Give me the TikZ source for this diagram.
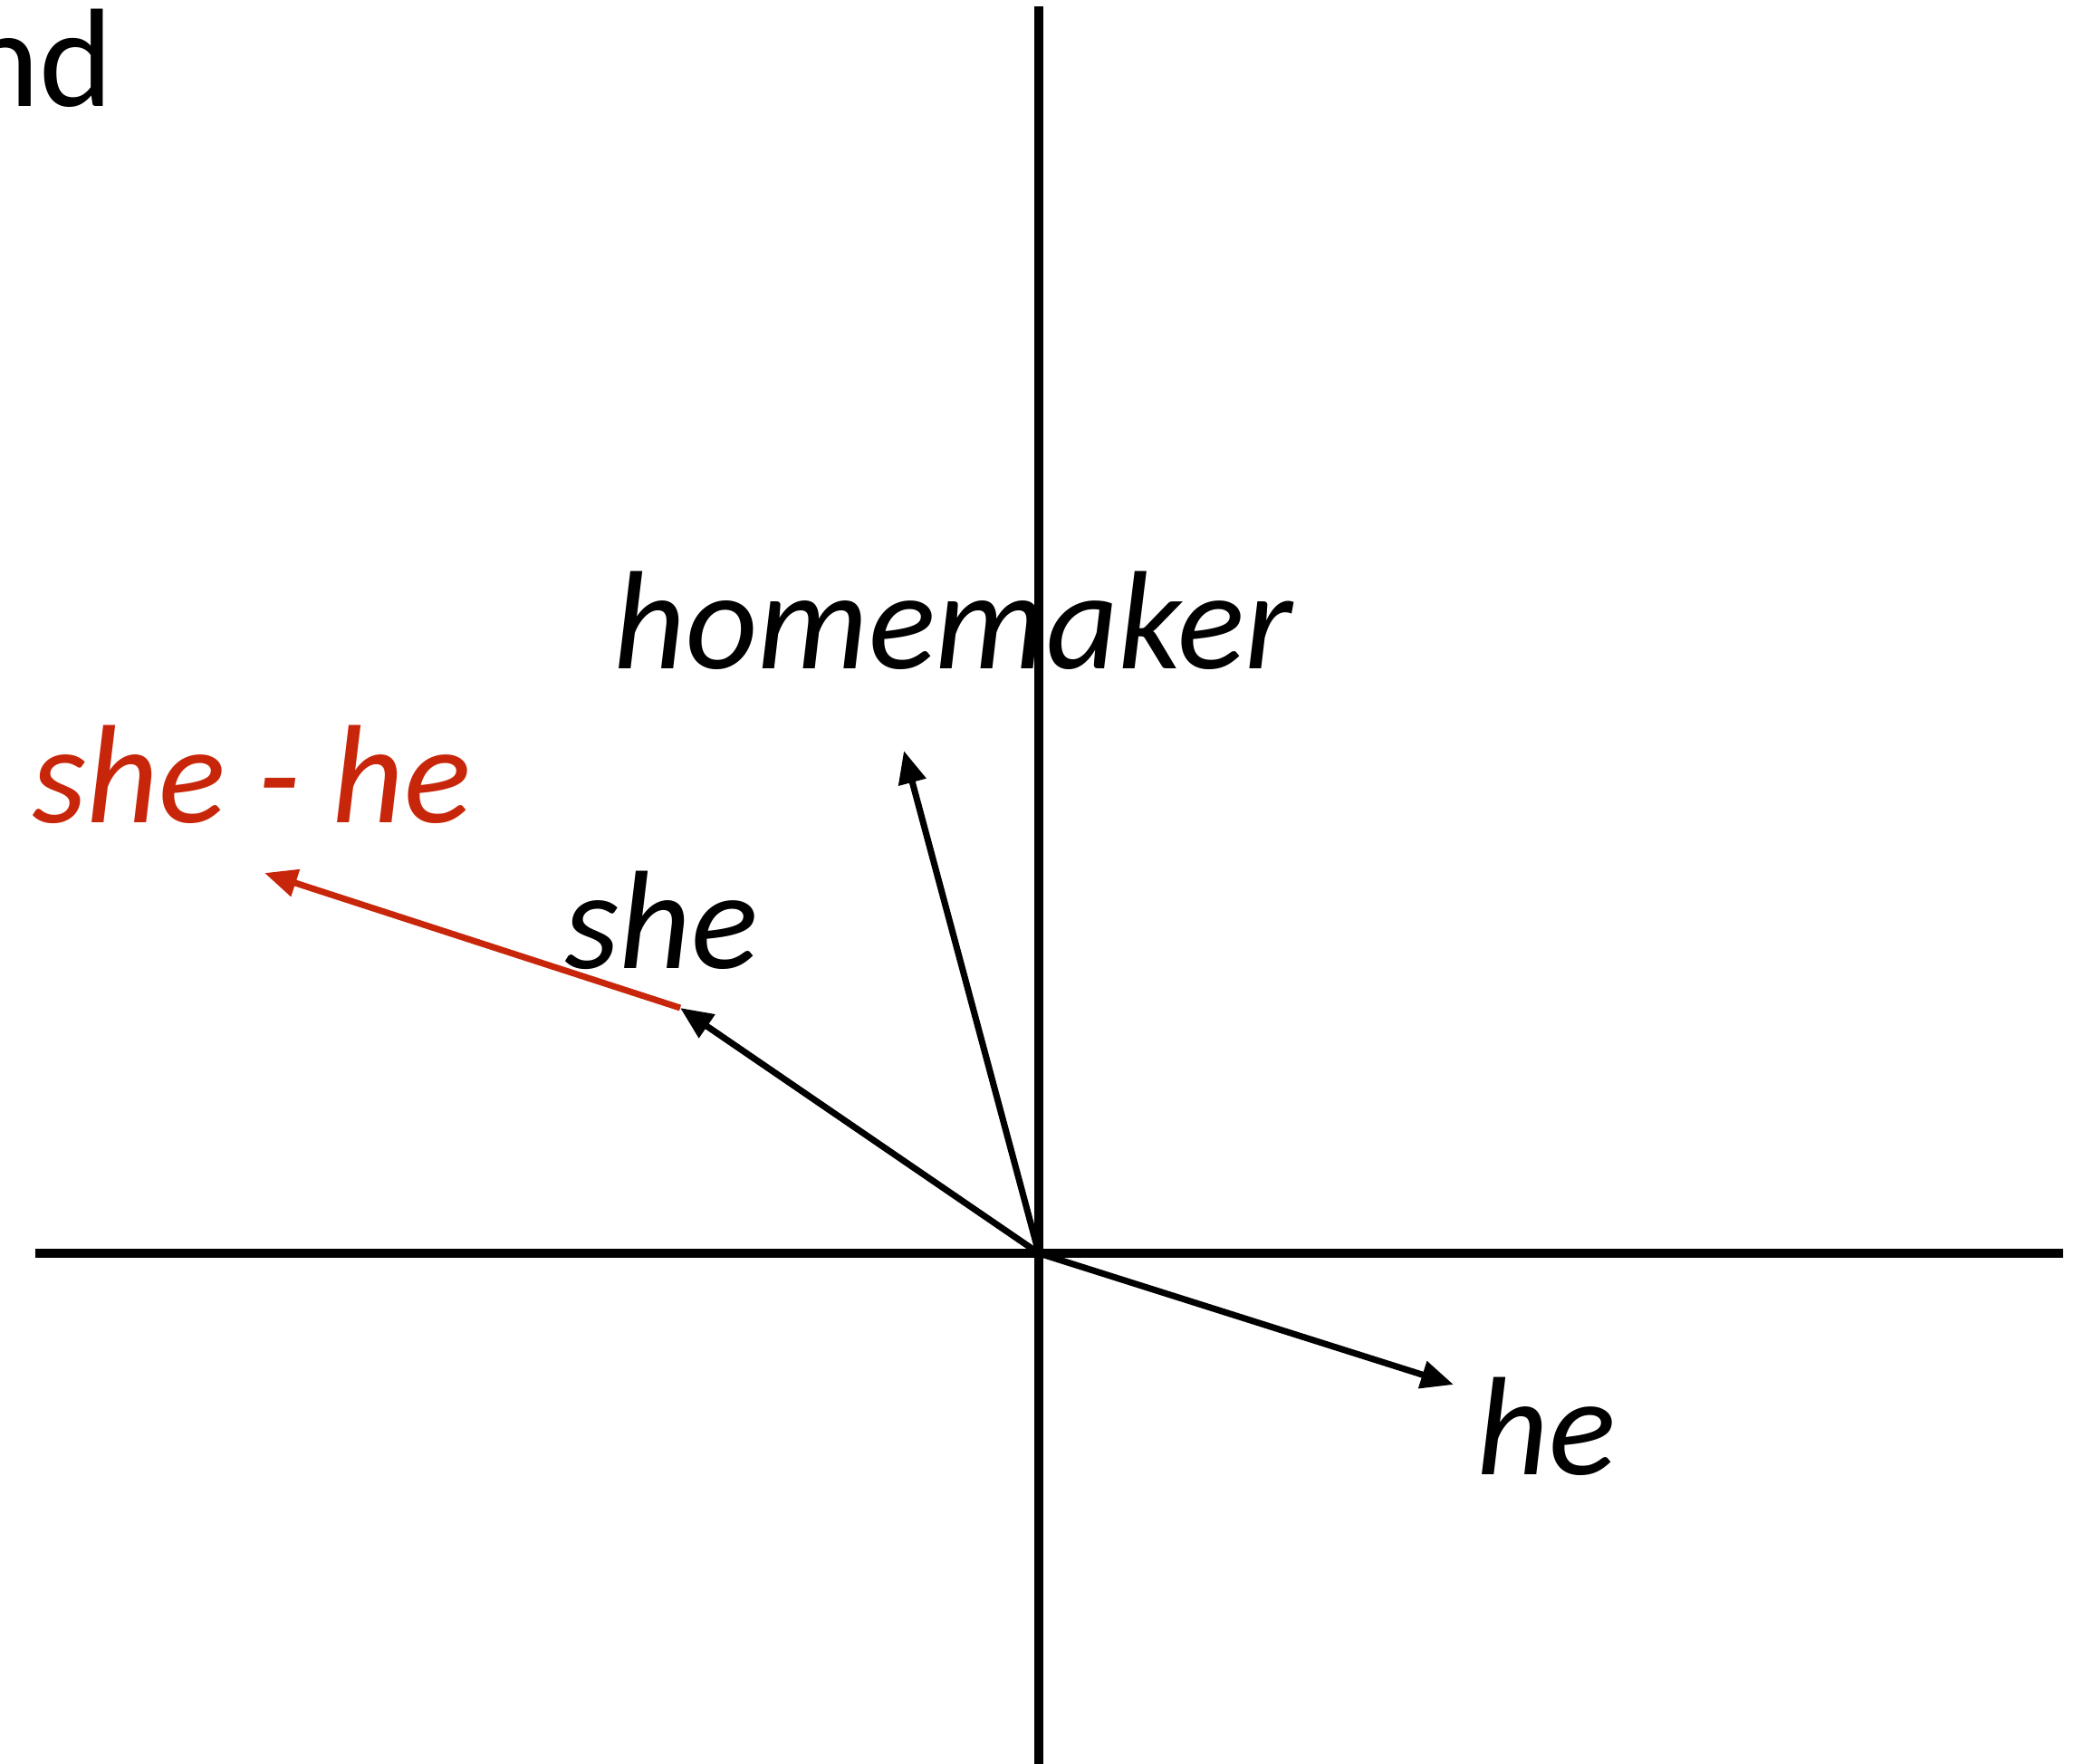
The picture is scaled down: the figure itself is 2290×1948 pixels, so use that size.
\documentclass[tikz,border=0pt]{standalone}
\usepackage{fontspec}
\setmainfont{Carlito}
\usepackage{xcolor}
\usetikzlibrary{arrows.meta}
\definecolor{diffred}{RGB}{200,38,10}
\tikzset{
  axisline/.style={line width=3.1pt},
  wordvec/.style={line width=2pt,-{Triangle[length=0.36cm,width=0.3cm]}},
  wordlabel/.style={font=\fontsize{44}{52}\selectfont\itshape,anchor=base west,inner sep=0pt}
}
\begin{document}
\begin{tikzpicture}[x=0.01cm,y=-0.01cm]
\useasboundingbox (0,0) rectangle (2290,1948);
\coordinate (o) at (1147,1384);
\coordinate (xL) at (39,1384);
\coordinate (xR) at (2278,1384);
\coordinate (yT) at (1147,7);
\coordinate (yB) at (1147,1948);
\coordinate (heTip) at (1605,1529);
\coordinate (sheTip) at (751,1113);
\coordinate (homeTip) at (998,829);
\coordinate (diffTip) at (292,964);
\draw[axisline] (xL) -- (xR);
\draw[axisline] (yT) -- (yB);
\draw[wordvec] (o) -- (heTip);
\draw[wordvec] (o) -- (sheTip);
\draw[wordvec] (o) -- (homeTip);
\draw[wordvec,diffred] (sheTip) -- (diffTip);
\node[font=\fontsize{44}{52}\selectfont,anchor=base east,inner sep=0pt] (cut) at (126,117) {nd};
\node[wordlabel] (home) at (677,738) {homemaker};
\node[wordlabel,text=diffred] (diff) at (35,908) {she - he};
\node[wordlabel] (she) at (623,1069) {she};
\node[wordlabel] (he) at (1630,1628) {he};
\end{tikzpicture}
\end{document}
